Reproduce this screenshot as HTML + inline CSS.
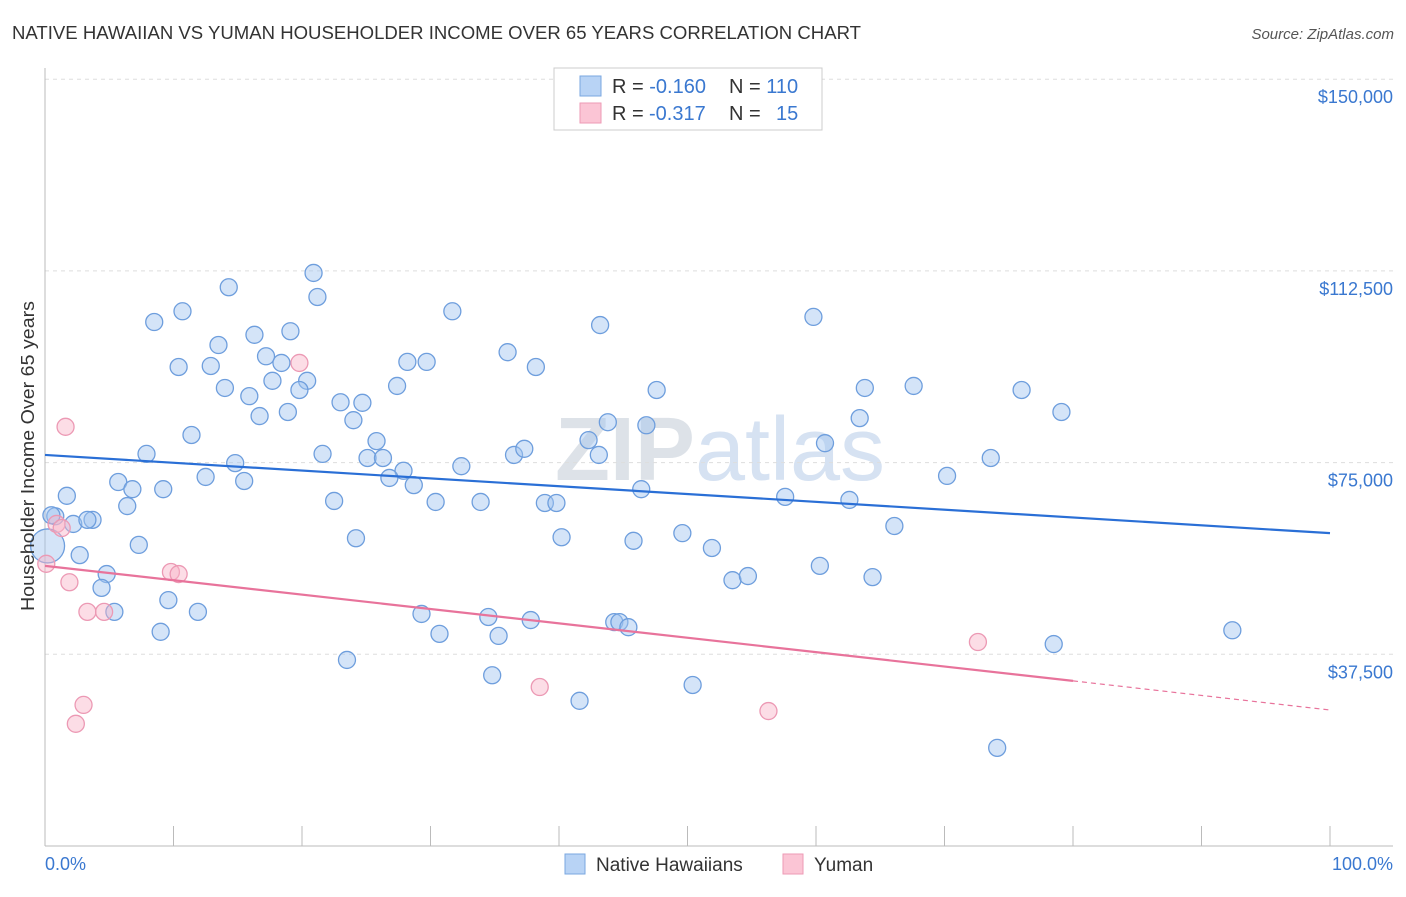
<!DOCTYPE html>
<html><head><meta charset="utf-8"><style>
body{margin:0;background:#fff;font-family:"Liberation Sans",sans-serif;}
svg text{font-family:"Liberation Sans",sans-serif;}
</style></head><body>
<svg id="chart" width="1406" height="892">
<text x="12" y="39" font-size="18" fill="#333" textLength="849" lengthAdjust="spacingAndGlyphs">NATIVE HAWAIIAN VS YUMAN HOUSEHOLDER INCOME OVER 65 YEARS CORRELATION CHART</text>
<text x="1394" y="39" font-size="15" fill="#555" text-anchor="end" font-style="italic">Source: ZipAtlas.com</text>
<text x="720" y="480" font-size="90" fill="#e4e8ee" text-anchor="middle" font-family="Liberation Serif"><tspan font-weight="bold" fill="#dde2e8">ZIP</tspan><tspan fill="#d6e2f2">atlas</tspan></text>
<g id="grid"></g>
<g id="axes"></g>
<g id="marks"></g>
<text transform="translate(34,456) rotate(-90)" font-size="18" fill="#333" text-anchor="middle" textLength="310" lengthAdjust="spacingAndGlyphs">Householder Income Over 65 years</text>
<text x="45" y="870" font-size="18" fill="#3a78d0">0.0%</text>
<text x="1393" y="870" font-size="18" fill="#3a78d0" text-anchor="end">100.0%</text>
<g>
<rect x="554" y="68" width="268" height="62" fill="#fff" stroke="#ccc"/>
<rect x="580" y="76" width="21" height="20" fill="#b8d3f5" stroke="#7aa7e0"/>
<rect x="580" y="103" width="21" height="20" fill="#fbc5d5" stroke="#ee9ab5"/>
<text x="612" y="93" font-size="20" fill="#333">R = <tspan fill="#3a78d0">-0.160</tspan><tspan x="729">N = </tspan><tspan fill="#3a78d0">110</tspan></text>
<text x="612" y="120" font-size="20" fill="#333">R = <tspan x="649" fill="#3a78d0">-0.317</tspan><tspan x="729">N = </tspan><tspan x="776" fill="#3a78d0">15</tspan></text>
</g>
<g>
<rect x="565" y="854" width="20" height="20" fill="#b8d3f5" stroke="#7aa7e0"/>
<text x="596" y="871" font-size="19" fill="#333">Native Hawaiians</text>
<rect x="783" y="854" width="20" height="20" fill="#fbc5d5" stroke="#ee9ab5"/>
<text x="814" y="871" font-size="19" fill="#333">Yuman</text>
</g>
</svg>
<script>
const yTicks=[37500,75000,112500,150000];
const yTickLabels=["$37,500","$75,000","$112,500","$150,000"];
const xTicks=[0,10,20,30,40,50,60,70,80,90,100];
const blueX=[20.9,21.2,14.3,8.5,10.7,16.3,19.1,13.5,10.4,12.9,17.2,18.4,14.0,15.9,17.7,20.4,19.8,18.9,16.7,11.4,7.9,14.8,12.5,15.5,5.7,6.8,9.2,1.7,6.4,0.8,2.2,3.7,3.3,7.3,2.7,4.8,4.4,5.4,9.6,11.9,9.0,23.0,24.7,24.0,25.8,25.1,26.3,21.6,27.9,26.8,28.7,22.5,24.2,31.7,28.2,29.7,27.4,32.4,30.4,33.9,36.0,38.2,36.5,37.3,38.9,39.8,43.2,43.8,42.3,43.1,46.8,46.4,40.2,45.8,49.6,51.9,53.5,54.7,47.6,59.8,60.7,57.6,62.6,60.3,64.4,63.8,63.4,67.6,70.2,73.6,76.0,79.1,66.1,29.3,34.5,37.8,30.7,35.3,44.3,44.7,45.4,23.5,34.8,41.6,50.4,78.5,92.4,74.1,0.2,0.5];
const blueY=[112.1,107.4,109.3,102.5,104.6,100.0,100.7,98.0,93.7,93.9,95.8,94.5,89.6,88.0,91.0,91.0,89.2,84.9,84.1,80.4,76.7,74.9,72.2,71.4,71.2,69.8,69.8,68.5,66.5,64.5,63.0,63.8,63.8,58.9,56.9,53.2,50.5,45.8,48.1,45.8,41.9,86.8,86.7,83.3,79.2,75.9,75.9,76.7,73.4,72.0,70.6,67.5,60.2,104.6,94.7,94.7,90.0,74.3,67.3,67.3,96.6,93.7,76.5,77.7,67.1,67.1,101.9,82.9,79.4,76.5,82.3,69.8,60.4,59.7,61.2,58.3,52.0,52.8,89.2,103.5,78.8,68.3,67.7,54.8,52.6,89.6,83.7,90.0,72.4,75.9,89.2,84.9,62.6,45.4,44.8,44.2,41.5,41.1,43.8,43.8,42.8,36.4,33.4,28.4,31.5,39.5,42.2,19.2,58.7,64.7];
const blueR=blueX.map((v,i)=>i===108?17:8.5);
const pinkX=[1.6,19.8,0.9,1.3,0.1,1.9,3.3,4.6,9.8,10.4,3.0,2.4,38.5,56.3,72.6];
const pinkY=[82.0,94.5,63.0,62.2,55.2,51.6,45.8,45.8,53.6,53.2,27.6,23.9,31.1,26.4,39.9];
const blueTrend=[[0,76.5],[100,61.2]];
const pinkTrend=[[0,54.8],[80,32.3],[100,26.6]];
const NS='http://www.w3.org/2000/svg';
const xs=p=>45+p*12.85;
function yv(v){return 846-(v/37500)*191.7;}
function mk(t,a,parent){const e=document.createElementNS(NS,t);for(const k in a)e.setAttribute(k,a[k]);parent.appendChild(e);return e;}
const grid=document.getElementById('grid'),axes=document.getElementById('axes'),marks=document.getElementById('marks');
yTicks.forEach((t,i)=>{
 const l=mk('line',{x1:45,x2:1393,y1:yv(t),y2:yv(t),stroke:'#ddd','stroke-dasharray':'4,4'},grid);
 
 
 const tx=mk('text',{x:1393,y:yv(t)+24,'font-size':18,fill:'#3a78d0','text-anchor':'end'},grid);
 tx.textContent=yTickLabels[i];
 
 
});
const ya=mk('line',{x1:45,x2:45,y1:68,y2:846,stroke:'#bbb'},axes);


const xa=mk('line',{x1:45,x2:1393,y1:846,y2:846,stroke:'#bbb'},axes);


xTicks.forEach(t=>{
 const l=mk('line',{x1:xs(t),x2:xs(t),y1:826,y2:846,stroke:'#bbb'},axes);
 
 
});
blueX.forEach((x,i)=>{
 const c=mk('circle',{cx:xs(x),cy:yv(blueY[i]*1000),r:blueR[i],fill:'rgba(160,195,240,0.45)',stroke:'#6e9edd','stroke-width':1.3},marks);
 
 
});
pinkX.forEach((x,i)=>{
 const c=mk('circle',{cx:xs(x),cy:yv(pinkY[i]*1000),r:8.5,fill:'rgba(248,180,200,0.45)',stroke:'#ec99b4','stroke-width':1.3},marks);
 
 
});
const bl=mk('line',{x1:xs(blueTrend[0][0]),y1:yv(blueTrend[0][1]*1000),x2:xs(blueTrend[1][0]),y2:yv(blueTrend[1][1]*1000),stroke:'#2a6fd6','stroke-width':2.2},marks);


const pl=mk('line',{x1:xs(pinkTrend[0][0]),y1:yv(pinkTrend[0][1]*1000),x2:xs(pinkTrend[1][0]),y2:yv(pinkTrend[1][1]*1000),stroke:'#e8739b','stroke-width':2.2},marks);


const pd=mk('line',{x1:xs(pinkTrend[1][0]),y1:yv(pinkTrend[1][1]*1000),x2:xs(pinkTrend[2][0]),y2:yv(pinkTrend[2][1]*1000),stroke:'#e8739b','stroke-width':1.2,'stroke-dasharray':'5,4'},marks);


</script>
</body></html>
